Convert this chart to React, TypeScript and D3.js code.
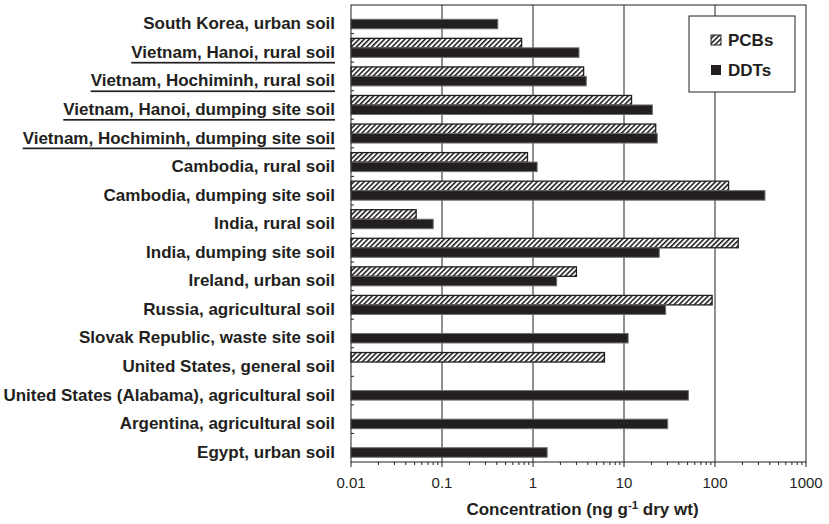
import React from "react";
import * as d3 from "d3";

// Soil sites, top to bottom
const categories = [
  "South Korea, urban soil",
  "Vietnam, Hanoi, rural soil",
  "Vietnam, Hochiminh, rural soil",
  "Vietnam, Hanoi, dumping site soil",
  "Vietnam, Hochiminh, dumping site soil",
  "Cambodia, rural soil",
  "Cambodia, dumping site soil",
  "India, rural soil",
  "India, dumping site soil",
  "Ireland, urban soil",
  "Russia, agricultural soil",
  "Slovak Republic, waste site soil",
  "United States, general soil",
  "United States (Alabama), agricultural soil",
  "Argentina, agricultural soil",
  "Egypt, urban soil",
];

// Sites from this study (underlined)
const underlinedSites = [
  "Vietnam, Hanoi, rural soil",
  "Vietnam, Hochiminh, rural soil",
  "Vietnam, Hanoi, dumping site soil",
  "Vietnam, Hochiminh, dumping site soil",
];

// Concentrations, ng/g dry wt (null = not reported)
const pcbs: (number | null)[] = [
  null, 0.75, 3.6, 12.1, 22.3, 0.87, 141, 0.052, 180, 3.0, 93, null, 6.1, null, null, null,
];
const ddts: (number | null)[] = [
  0.41, 3.2, 3.85, 20.5, 23.2, 1.11, 354, 0.08, 24.4, 1.82, 28.7, 11.1, null, 51, 30.2, 1.43,
];

const tickValues = [0.01, 0.1, 1, 10, 100, 1000];
const tickLabels = ["0.01", "0.1", "1", "10", "100", "1000"];

const W = 829;
const H = 524;
const left = 351;
const right = 806;
const top = 5;
const bottom = 462;
const ink = "#231f20";
const font = "'Liberation Sans', Arial, Helvetica, sans-serif";

export default function App() {
  const x = d3.scaleLog().domain([0.01, 1000]).range([left, right]);
  const y = d3.scaleBand<string>().domain(categories).range([top, bottom]);
  const barH = 9.5;
  const allTicks = x.ticks();
  const isMajor = (v: number) => Math.abs(Math.log10(v) - Math.round(Math.log10(v))) < 1e-9;

  return (
    <svg
      width={W}
      height={H}
      style={{ position: "absolute", left: 0, top: 0, background: "#fff" }}
      fontFamily={font}
    >
      <defs>
        <pattern
          id="hatch"
          patternUnits="userSpaceOnUse"
          width={3.6}
          height={3.6}
          patternTransform="rotate(45)"
        >
          <rect width={3.6} height={3.6} fill="#fff" />
          <line x1={0} y1={0} x2={0} y2={3.6} stroke={ink} strokeWidth={3.2} />
        </pattern>
      </defs>

      {/* decade gridlines */}
      {tickValues.slice(1, -1).map((v) => (
        <line key={"g" + v} x1={x(v)} x2={x(v)} y1={top} y2={bottom} stroke={ink} strokeWidth={1} />
      ))}

      {/* bars */}
      {categories.map((c, i) => {
        const cy = (y(c) as number) + y.bandwidth() / 2;
        const p = pcbs[i];
        const d = ddts[i];
        return (
          <g key={c}>
            {p != null && (
              <rect
                x={left}
                y={cy - barH}
                width={x(p) - left}
                height={barH}
                fill="url(#hatch)"
                stroke={ink}
                strokeWidth={1.3}
              />
            )}
            {d != null && (
              <rect
                x={left}
                y={cy}
                width={x(d) - left}
                height={barH}
                fill={ink}
                stroke="#6d6d6d"
                strokeWidth={1}
              />
            )}
          </g>
        );
      })}

      {/* plot frame */}
      <rect
        x={left}
        y={top}
        width={right - left}
        height={bottom - top}
        fill="none"
        stroke={ink}
        strokeWidth={1}
      />

      {/* category ticks on the left axis */}
      {categories.slice(1).map((c) => (
        <line
          key={"t" + c}
          x1={left}
          x2={left + 3}
          y1={y(c) as number}
          y2={y(c) as number}
          stroke={ink}
          strokeWidth={1}
        />
      ))}

      {/* x axis ticks */}
      {allTicks.map((v) => (
        <line
          key={"xt" + v}
          x1={x(v)}
          x2={x(v)}
          y1={bottom}
          y2={bottom + (isMajor(v) ? 5 : 3)}
          stroke={ink}
          strokeWidth={1}
        />
      ))}
      {tickValues.map((v, i) => (
        <text
          key={"xl" + v}
          x={x(v)}
          y={488}
          textAnchor="middle"
          fontSize={15}
          fill={ink}
        >
          {tickLabels[i]}
        </text>
      ))}

      {/* x axis title */}
      <text x={(left + right) / 2 + 4} y={515} textAnchor="middle" fontSize={17} fontWeight="bold" fill={ink}>
        Concentration (ng g
        <tspan fontSize={11.5} dy={-6}>
          -1
        </tspan>
        <tspan dy={6}> dry wt)</tspan>
      </text>

      {/* category labels */}
      {categories.map((c) => (
        <text
          key={"l" + c}
          x={335}
          y={(y(c) as number) + y.bandwidth() / 2 + 4.5}
          dominantBaseline="central"
          textAnchor="end"
          fontSize={17}
          fontWeight="bold"
          fill={ink}
          textDecoration={underlinedSites.includes(c) ? "underline" : undefined}
        >
          {c}
        </text>
      ))}

      {/* legend */}
      <rect x={689} y={16} width={106} height={76} fill="#fff" stroke={ink} strokeWidth={1} />
      <rect x={711} y={35} width={10} height={10} fill="url(#hatch)" stroke={ink} strokeWidth={1} />
      <text x={728} y={46} fontSize={17} fontWeight="bold" fill={ink}>
        PCBs
      </text>
      <rect x={711} y={65} width={10} height={10} fill={ink} />
      <text x={728} y={76} fontSize={17} fontWeight="bold" fill={ink}>
        DDTs
      </text>
    </svg>
  );
}
